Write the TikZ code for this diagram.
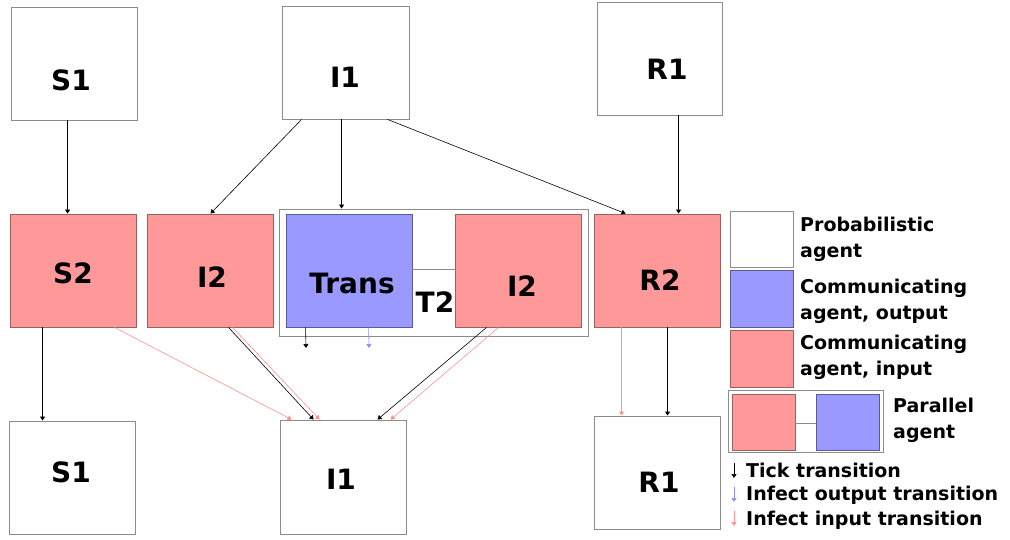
\documentclass[tikz,border=0pt]{standalone}
\usepackage{fontspec}
\setmainfont{DejaVu Sans}
\usetikzlibrary{arrows.meta}
\definecolor{pinkfill}{HTML}{FF9999}
\definecolor{pinkdraw}{HTML}{996060}
\definecolor{bluefill}{HTML}{9999FF}
\definecolor{bluedraw}{HTML}{5A5A99}
\definecolor{greyline}{HTML}{8C8C8C}
\definecolor{redarrow}{HTML}{FF9090}
\definecolor{bluearrow}{HTML}{8C8CFF}
\tikzset{
  agentbox/.style={draw=greyline, line width=0.9pt, fill=white, rectangle, inner sep=0pt, minimum width=126pt, minimum height=113pt},
  inbox/.style={agentbox, draw=pinkdraw, fill=pinkfill},
  outbox/.style={agentbox, draw=bluedraw, fill=bluefill},
  bigtext/.style={font=\fontsize{28}{30}\selectfont\bfseries, inner sep=0pt},
  legtext/.style={font=\fontsize{19}{26}\selectfont\bfseries, inner sep=0pt, anchor=west, align=left},
  tick/.style={line width=0.6pt, black, -{Triangle[length=4pt,width=5pt]}},
  infin/.style={line width=0.6pt, redarrow, -{Triangle[length=4pt,width=5pt]}},
  infout/.style={line width=0.6pt, bluearrow, -{Triangle[length=4pt,width=5pt]}},
}
\begin{document}
\begin{tikzpicture}[x=1pt,y=-1pt]
\useasboundingbox (0,0) rectangle (1010,540);
% top row
\node[agentbox] (S1a) at (74,63.5) {};
\node[agentbox, minimum width=127pt] (I1a) at (345.5,62.5) {};
\node[agentbox, minimum width=125pt] (R1a) at (659.5,58.5) {};
\node[bigtext] (S1aT) at (71,80) {S1};
\node[bigtext] (I1aT) at (345,77) {I1};
\node[bigtext] (R1aT) at (667,69) {R1};
% middle row
\node[agentbox, minimum width=309pt, minimum height=127pt] (T2) at (433.5,272.5) {};
\node[inbox] (S2) at (73,270.5) {};
\node[inbox] (I2a) at (210,270.5) {};
\node[outbox] (Trans) at (349,270.5) {};
\node[inbox] (I2b) at (518,270.5) {};
\node[inbox] (R2) at (657,270.5) {};
\draw[greyline, line width=0.9pt] (Trans.east |- 0,269) coordinate (tl) -- (I2b.west |- 0,269) coordinate (tr);
\node[bigtext] (S2T) at (73,273) {S2};
\node[bigtext] (I2aT) at (212,277) {I2};
\node[bigtext] (TransT) at (352,283) {Trans};
\node[bigtext] (I2bT) at (522,286) {I2};
\node[bigtext] (R2T) at (660,280) {R2};
\node[bigtext] (T2T) at (435,302) {T2};
% bottom row
\node[agentbox] (S1b) at (72,477.5) {};
\node[agentbox, minimum height=114pt] (I1b) at (343,477) {};
\node[agentbox] (R1b) at (657,472.5) {};
\node[bigtext] (S1bT) at (71,472) {S1};
\node[bigtext] (I1bT) at (341,479) {I1};
\node[bigtext] (R1bT) at (659,482) {R1};
% arrows top -> middle
\draw[tick] ([xshift=57pt]S1a.south west) -- ([xshift=58pt]S2.north west);
\draw[tick] ([xshift=20pt]I1a.south west) -- ([xshift=64pt]I2a.north west);
\draw[tick] ([xshift=60pt]I1a.south west) -- ([xshift=63pt]T2.north west);
\draw[tick] ([xshift=106pt]I1a.south west) -- ([xshift=32pt]R2.north west);
\draw[tick] ([xshift=82pt]R1a.south west) -- ([xshift=85pt]R2.north west);
% arrows middle -> bottom
\draw[tick] ([xshift=33pt]S2.south west) -- ([xshift=34pt]S1b.north west);
\draw[infin] ([xshift=105pt]S2.south west) -- ([xshift=12pt]I1b.north west);
\draw[tick] ([xshift=82pt]I2a.south west) -- ([xshift=34pt]I1b.north west);
\draw[infin] ([xshift=86pt]I2a.south west) -- ([xshift=40pt]I1b.north west);
\coordinate (tk) at (306,348);
\coordinate (bo) at (369,348);
\draw[tick] ([xshift=20pt]Trans.south west) -- (tk);
\draw[infout] ([xshift=83pt]Trans.south west) -- (bo);
\draw[tick] ([xshift=32pt]I2b.south west) -- ([xshift=98pt]I1b.north west);
\draw[infin] ([xshift=44pt]I2b.south west) -- ([xshift=111pt]I1b.north west);
\draw[infin] ([xshift=28pt]R2.south west) -- ([xshift=28pt]R1b.north west);
\draw[tick] ([xshift=74pt]R2.south west) -- ([xshift=74pt]R1b.north west);
% legend
\node[agentbox, minimum width=63pt, minimum height=56pt] (Lp) at (761.5,239) {};
\node[outbox, minimum width=63pt, minimum height=57pt] (Lo) at (761.5,298.5) {};
\node[inbox, minimum width=63pt, minimum height=57pt] (Li) at (761.5,358.5) {};
\node[agentbox, minimum width=155pt, minimum height=62pt] (Lpar) at (805.5,421) {};
\node[inbox, minimum width=63pt, minimum height=56pt] (Lpi) at (763.5,422) {};
\node[outbox, minimum width=63pt, minimum height=56pt] (Lpo) at (847.5,422) {};
\draw[greyline, line width=0.9pt] (Lpi.east |- 0,423) -- (Lpo.west |- 0,423);
\node[legtext] (Lpt) at (800,239) {Probabilistic\\agent};
\node[legtext] (Lot) at (800,301) {Communicating\\agent, output};
\node[legtext] (Lit) at (800,357) {Communicating\\agent, input};
\node[legtext] (Lpart) at (893,420) {Parallel\\agent};
\coordinate (a1s) at (734,463); \coordinate (a1e) at (734,478);
\coordinate (a2s) at (734,487); \coordinate (a2e) at (734,502);
\coordinate (a3s) at (734,511); \coordinate (a3e) at (734,526);
\draw[tick] (a1s) -- (a1e);
\draw[infout] (a2s) -- (a2e);
\draw[infin] (a3s) -- (a3e);
\node[legtext] (L1) at (746,470) {Tick transition};
\node[legtext] (L2) at (746,495) {Infect output transition};
\node[legtext] (L3) at (746,520) {Infect input transition};
\end{tikzpicture}
\end{document}
